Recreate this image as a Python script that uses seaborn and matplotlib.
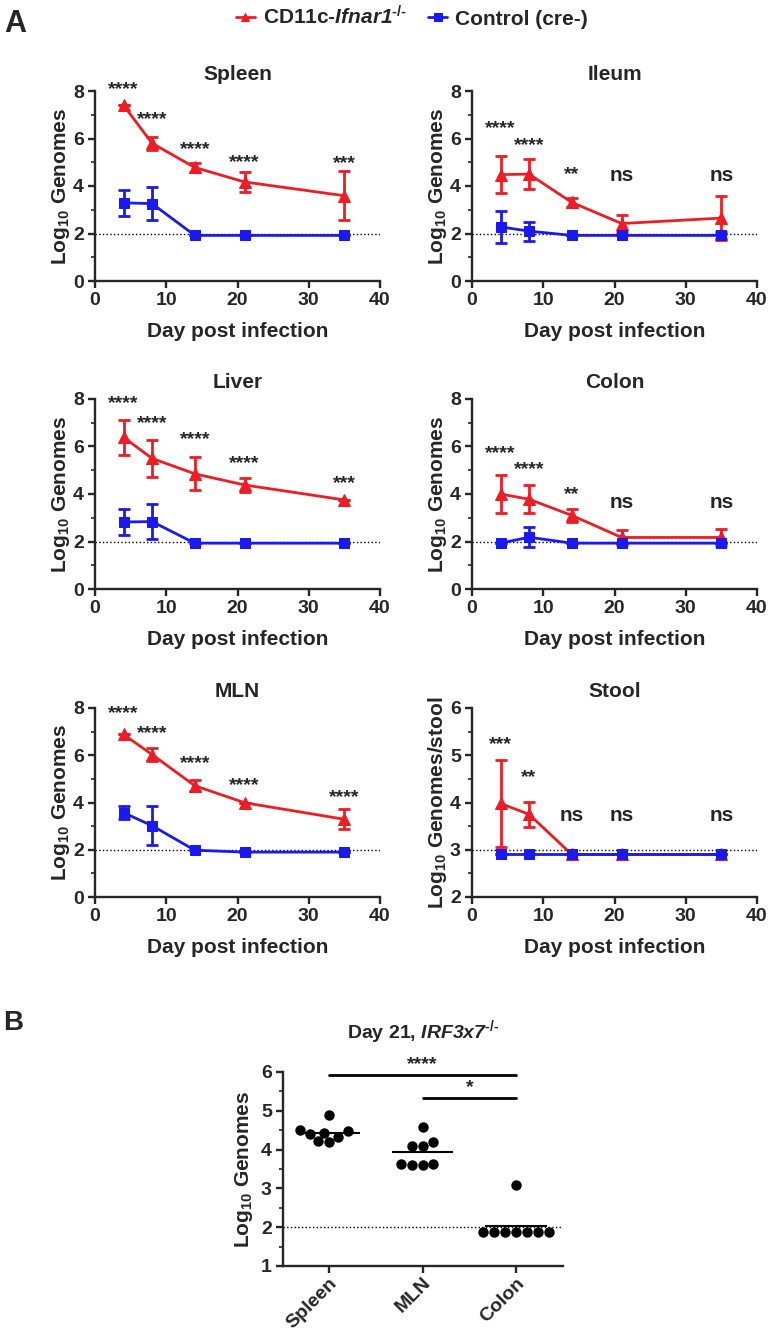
import numpy as np
import pandas as pd
import matplotlib
matplotlib.use("Agg")
import matplotlib.pyplot as plt
import seaborn as sns
from matplotlib.ticker import MultipleLocator

# ---- data ----
days = [4, 8, 14, 21, 35]

spleen_ko = [7.40, 5.80, 4.78, 4.17, 3.59]
spleen_ko_sd = [0.0, 0.28, 0.20, 0.42, 1.03]
spleen_ctl = [3.29, 3.26, 1.92, 1.92, 1.92]
spleen_ctl_sd = [0.56, 0.70, 0.0, 0.0, 0.0]
spleen_sig = ["****", "****", "****", "****", "***"]
spleen_sig_y = [8.23, 6.97, 5.70, 5.15, 5.10]

ileum_ko = [4.48, 4.50, 3.31, 2.42, 2.65]
ileum_ko_sd = [0.77, 0.63, 0.20, 0.35, 0.92]
ileum_ctl = [2.28, 2.10, 1.92, 1.92, 1.92]
ileum_ctl_sd = [0.66, 0.40, 0.0, 0.0, 0.15]
ileum_sig = ["****", "****", "**", "ns", "ns"]
ileum_sig_y = [6.58, 5.88, 4.66, 4.45, 4.45]

liver_ko = [6.39, 5.50, 4.85, 4.38, 3.75]
liver_ko_sd = [0.74, 0.77, 0.70, 0.31, 0.0]
liver_ctl = [2.82, 2.84, 1.93, 1.93, 1.93]
liver_ctl_sd = [0.56, 0.73, 0.0, 0.0, 0.0]
liver_sig = ["****", "****", "****", "****", "***"]
liver_sig_y = [7.96, 7.12, 6.45, 5.44, 4.60]

colon_ko = [4.00, 3.78, 3.10, 2.17, 2.17]
colon_ko_sd = [0.79, 0.59, 0.28, 0.30, 0.35]
colon_ctl = [1.93, 2.18, 1.93, 1.93, 1.93]
colon_ctl_sd = [0.0, 0.43, 0.0, 0.0, 0.0]
colon_sig = ["****", "****", "**", "ns", "ns"]
colon_sig_y = [5.88, 5.21, 4.15, 3.64, 3.64]

mln_ko = [6.88, 6.03, 4.71, 3.99, 3.29]
mln_ko_sd = [0.0, 0.28, 0.23, 0.0, 0.42]
mln_ctl = [3.57, 3.02, 1.98, 1.90, 1.90]
mln_ctl_sd = [0.28, 0.84, 0.0, 0.0, 0.0]
mln_sig = ["****", "****", "****", "****", "****"]
mln_sig_y = [7.94, 7.09, 5.83, 4.88, 4.39]

stool_ko = [3.98, 3.75, 2.90, 2.90, 2.90]
stool_ko_sd = [0.93, 0.27, 0.0, 0.0, 0.0]
stool_ctl = [2.90, 2.90, 2.90, 2.90, 2.90]
stool_ctl_sd = [0.0, 0.0, 0.0, 0.0, 0.0]
stool_sig = ["***", "**", "ns", "ns", "ns"]
stool_sig_y = [5.30, 4.60, 3.72, 3.72, 3.72]

# panel B: Day 21, IRF3x7-/-
b_tissues = ["Spleen", "MLN", "Colon"]
b_spleen = [4.50, 4.44, 4.33, 4.89, 4.20, 4.22, 4.39, 4.48]
b_mln = [4.57, 4.10, 4.10, 4.20, 3.64, 3.60, 3.60, 3.64]
b_colon = [3.08, 1.88, 1.88, 1.88, 1.88, 1.88, 1.88, 1.88]

RED = "#ee1c24"
BLUE = "#1a1aee"
KO_LABEL = "CD11c-$\\mathsf{Ifnar1}^{\u2010/\u2010}$"
CTL_LABEL = "Control (cre-)"

# ---- style ----
sns.set_style("ticks")
plt.rcParams["font.family"] = ["Liberation Sans", "DejaVu Sans"]
plt.rcParams["font.weight"] = "bold"
plt.rcParams["axes.labelweight"] = "bold"
plt.rcParams["axes.titleweight"] = "bold"
plt.rcParams["mathtext.fontset"] = "custom"
plt.rcParams["mathtext.rm"] = "Liberation Sans:bold"
plt.rcParams["mathtext.it"] = "Liberation Sans:italic:bold"
plt.rcParams["mathtext.sf"] = "Liberation Sans:italic:bold"
plt.rcParams["mathtext.bf"] = "Liberation Sans:bold"
plt.rcParams["axes.linewidth"] = 1.7

W, H = 771, 1336
fig = plt.figure(figsize=(W / 100, H / 100), dpi=100)


def px_axes(x0, y0, x1, y1):
    return fig.add_axes([x0 / W, 1 - y1 / H, (x1 - x0) / W, (y1 - y0) / H])


def style_axes(ax):
    sns.despine(ax=ax)
    ax.tick_params(axis="both", which="major", labelsize=14, width=1.7, length=5, pad=3)
    ax.tick_params(axis="both", which="minor", width=1.2, length=3)
    for lab in ax.get_xticklabels() + ax.get_yticklabels():
        lab.set_fontweight("bold")


panels = [
    ("Spleen", spleen_ko, spleen_ko_sd, spleen_ctl, spleen_ctl_sd, spleen_sig, spleen_sig_y, (95, 91, 380, 281)),
    ("Ileum", ileum_ko, ileum_ko_sd, ileum_ctl, ileum_ctl_sd, ileum_sig, ileum_sig_y, (472, 91, 757, 281)),
    ("Liver", liver_ko, liver_ko_sd, liver_ctl, liver_ctl_sd, liver_sig, liver_sig_y, (95, 399, 380, 589)),
    ("Colon", colon_ko, colon_ko_sd, colon_ctl, colon_ctl_sd, colon_sig, colon_sig_y, (472, 399, 757, 589)),
    ("MLN", mln_ko, mln_ko_sd, mln_ctl, mln_ctl_sd, mln_sig, mln_sig_y, (95, 708, 380, 897)),
    ("Stool", stool_ko, stool_ko_sd, stool_ctl, stool_ctl_sd, stool_sig, stool_sig_y, (472, 708, 757, 897)),
]

handles = None
for name, ko, ko_sd, ctl, ctl_sd, sig, sig_y, box in panels:
    ax = px_axes(*box)
    is_stool = name == "Stool"
    lod = 3 if is_stool else 2
    ax.axhline(lod, color="black", ls=":", lw=1, zorder=1)

    sns.lineplot(x=days, y=ko, ax=ax, color=RED, marker="^", markersize=8,
                 markeredgecolor=RED, linewidth=2, label=KO_LABEL, zorder=3)
    ax.errorbar(days, ko, yerr=ko_sd, fmt="none", ecolor=RED, elinewidth=2,
                capsize=4, capthick=2, zorder=3)
    sns.lineplot(x=days, y=ctl, ax=ax, color=BLUE, marker="s", markersize=7.5,
                 markeredgecolor=BLUE, linewidth=2, label=CTL_LABEL, zorder=4)
    ax.errorbar(days, ctl, yerr=ctl_sd, fmt="none", ecolor=BLUE, elinewidth=2,
                capsize=4, capthick=2, zorder=4)

    if handles is None:
        handles, labels = ax.get_legend_handles_labels()
    ax.get_legend().remove()

    for d, s, y in zip(days, sig, sig_y):
        off = -4 if s == "ns" else -6
        ax.annotate(s, (d, y), xytext=(0, off), textcoords="offset points",
                    ha="center", va="baseline", fontsize=14 if s != "ns" else 15,
                    fontweight="bold", annotation_clip=False)

    ax.set_xlim(0, 40)
    ax.set_xticks([0, 10, 20, 30, 40])
    if is_stool:
        ax.set_ylim(2, 6)
        ax.set_yticks([2, 3, 4, 5, 6])
        ax.yaxis.set_minor_locator(MultipleLocator(0.5))
        ax.set_ylabel("Log$_{\\mathrm{10}}$ Genomes/stool", fontsize=15, labelpad=1)
    else:
        ax.set_ylim(0, 8)
        ax.set_yticks([0, 2, 4, 6, 8])
        ax.yaxis.set_minor_locator(MultipleLocator(1))
        ax.set_ylabel("Log$_{\\mathrm{10}}$ Genomes", fontsize=15, labelpad=1)
    ax.set_xlabel("Day post infection", fontsize=15, labelpad=9)
    ax.set_title(name, fontsize=15, pad=8)
    style_axes(ax)

fig.legend(handles, labels, loc="center", bbox_to_anchor=(412 / W, 1 - 17 / H), ncol=2,
           frameon=False, fontsize=15, handlelength=0.9, handletextpad=0.4,
           columnspacing=1.0, markerscale=0.8)

fig.text(4 / W, 1 - 24 / H, "A", fontsize=22, fontweight="bold", va="center")
fig.text(3 / W, 1 - 1023 / H, "B", fontsize=20, fontweight="bold", va="center")

# ---- panel B ----
dfb = pd.DataFrame({
    "tissue": ["Spleen"] * len(b_spleen) + ["MLN"] * len(b_mln) + ["Colon"] * len(b_colon),
    "value": b_spleen + b_mln + b_colon,
})
axb = px_axes(283, 1072, 563, 1266)
axb.axhline(2, color="black", ls=":", lw=1, zorder=1)
sns.swarmplot(data=dfb, x="tissue", y="value", order=b_tissues, color="black",
              size=7.5, ax=axb, zorder=3)
means = dfb.groupby("tissue", sort=False)["value"].mean()
for i, t in enumerate(b_tissues):
    axb.hlines(means[t], i - 0.33, i + 0.33, color="black", lw=1.5, zorder=2)

axb.plot([0, 2], [5.93, 5.93], color="black", lw=2)
axb.text(1, 5.98, "****", ha="center", va="bottom", fontsize=14, fontweight="bold")
axb.plot([1, 2], [5.34, 5.34], color="black", lw=2)
axb.text(1.5, 5.39, "*", ha="center", va="bottom", fontsize=14, fontweight="bold")

axb.set_xlim(-0.49, 2.5)
axb.set_ylim(1, 6)
axb.set_yticks([1, 2, 3, 4, 5, 6])
axb.yaxis.set_minor_locator(MultipleLocator(0.5))
axb.set_xlabel("")
axb.set_ylabel("Log$_{\\mathrm{10}}$ Genomes", fontsize=15, labelpad=4)
style_axes(axb)
axb.tick_params(axis="x", which="major", pad=1)
plt.setp(axb.get_xticklabels(), rotation=45, ha="right", rotation_mode="anchor", fontsize=14)
fig.text(423 / W, 1 - 1032 / H, "Day 21, $\\mathsf{IRF3x7}^{\u2010/\u2010}$", ha="center", va="center",
         fontsize=14, fontweight="bold")

fig.savefig("out.png", dpi=100)
